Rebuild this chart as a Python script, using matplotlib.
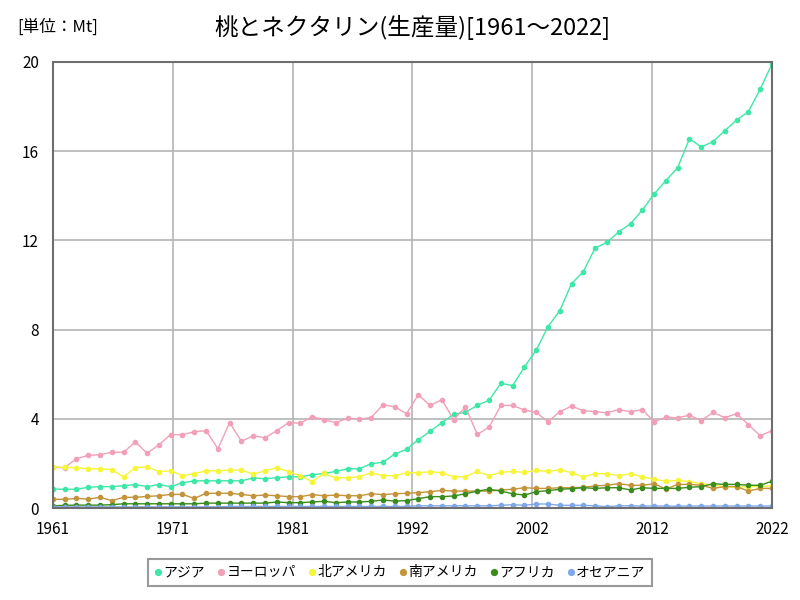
import numpy as np
import matplotlib.pyplot as plt

plt.rcParams['font.family'] = ['Noto Sans CJK JP', 'DejaVu Sans']
plt.rcParams['font.size'] = 11

# データ（単位：Mt）
years = list(range(1961, 2023))

asia = [0.85, 0.84, 0.84, 0.93, 0.96, 0.96, 1.00, 1.05, 0.96, 1.05,
        0.96, 1.13, 1.22, 1.22, 1.22, 1.22, 1.22, 1.35, 1.31, 1.36,
        1.40, 1.40, 1.49, 1.55, 1.64, 1.76, 1.76, 1.99, 2.05, 2.42,
        2.63, 3.06, 3.44, 3.83, 4.20, 4.29, 4.60, 4.83, 5.59, 5.49,
        6.32, 7.08, 8.13, 8.85, 10.06, 10.60, 11.66, 11.91, 12.38, 12.75,
        13.36, 14.08, 14.68, 15.26, 16.56, 16.19, 16.43, 16.92, 17.40, 17.77,
        18.79, 19.91]

europe = [1.82, 1.81, 2.21, 2.36, 2.39, 2.50, 2.50, 2.97, 2.45, 2.84,
          3.29, 3.29, 3.42, 3.47, 2.66, 3.83, 2.99, 3.24, 3.15, 3.47,
          3.83, 3.80, 4.10, 3.96, 3.83, 4.02, 4.00, 4.05, 4.63, 4.54,
          4.23, 5.08, 4.60, 4.86, 3.95, 4.54, 3.30, 3.62, 4.60, 4.60,
          4.39, 4.29, 3.87, 4.32, 4.57, 4.36, 4.32, 4.27, 4.41, 4.32,
          4.41, 3.87, 4.07, 4.05, 4.16, 3.92, 4.29, 4.05, 4.23, 3.74,
          3.24, 3.47]

north_america = [1.85, 1.82, 1.81, 1.76, 1.76, 1.72, 1.40, 1.81, 1.85, 1.63,
                 1.67, 1.45, 1.54, 1.67, 1.67, 1.70, 1.70, 1.52, 1.67, 1.81,
                 1.63, 1.45, 1.18, 1.55, 1.35, 1.36, 1.40, 1.58, 1.45, 1.45,
                 1.58, 1.58, 1.63, 1.58, 1.40, 1.40, 1.64, 1.45, 1.60, 1.64,
                 1.60, 1.69, 1.64, 1.72, 1.58, 1.40, 1.54, 1.54, 1.45, 1.54,
                 1.40, 1.29, 1.20, 1.24, 1.18, 1.09, 1.03, 0.96, 0.93, 0.96,
                 0.96, 1.00]

south_america = [0.39, 0.39, 0.43, 0.40, 0.48, 0.33, 0.48, 0.48, 0.52, 0.55,
                 0.61, 0.61, 0.43, 0.66, 0.66, 0.66, 0.61, 0.55, 0.58, 0.55,
                 0.51, 0.51, 0.60, 0.55, 0.58, 0.55, 0.55, 0.64, 0.60, 0.64,
                 0.66, 0.69, 0.73, 0.79, 0.76, 0.76, 0.76, 0.76, 0.81, 0.84,
                 0.91, 0.88, 0.88, 0.91, 0.91, 0.93, 0.99, 1.02, 1.09, 1.02,
                 1.02, 1.09, 0.85, 1.06, 1.06, 1.02, 0.88, 0.96, 0.96, 0.76,
                 0.88, 0.88]

africa = [0.10, 0.12, 0.13, 0.13, 0.13, 0.15, 0.19, 0.19, 0.19, 0.19,
          0.19, 0.19, 0.19, 0.22, 0.22, 0.22, 0.22, 0.22, 0.22, 0.27,
          0.24, 0.24, 0.27, 0.30, 0.24, 0.27, 0.27, 0.30, 0.36, 0.31,
          0.33, 0.42, 0.51, 0.51, 0.54, 0.64, 0.76, 0.84, 0.76, 0.64,
          0.58, 0.73, 0.78, 0.84, 0.87, 0.91, 0.88, 0.91, 0.91, 0.81,
          0.91, 0.88, 0.88, 0.88, 0.93, 0.96, 1.09, 1.06, 1.06, 1.02,
          1.02, 1.20]

oceania = [0.05, 0.05, 0.05, 0.05, 0.05, 0.05, 0.05, 0.05, 0.05, 0.05,
           0.05, 0.05, 0.05, 0.05, 0.05, 0.07, 0.07, 0.07, 0.07, 0.07,
           0.07, 0.07, 0.07, 0.07, 0.07, 0.07, 0.07, 0.07, 0.07, 0.07,
           0.07, 0.10, 0.10, 0.10, 0.10, 0.10, 0.10, 0.10, 0.12, 0.15,
           0.12, 0.18, 0.18, 0.12, 0.12, 0.12, 0.10, 0.06, 0.10, 0.10,
           0.09, 0.09, 0.09, 0.08, 0.09, 0.09, 0.09, 0.09, 0.09, 0.09,
           0.09, 0.09]

series = [
    ('アジア', asia, '#3DE8A6'),
    ('ヨーロッパ', europe, '#F2A0B8'),
    ('北アメリカ', north_america, '#F5F53A'),
    ('南アメリカ', south_america, '#C4943A'),
    ('アフリカ', africa, '#3A8C1C'),
    ('オセアニア', oceania, '#80A8E8'),
]

xtick_labels = ['1961', '1971', '1981', '1992', '2002', '2012', '2022']
yticks = [0, 4, 8, 12, 16, 20]

fig = plt.figure(figsize=(8, 6), dpi=100)
ax = fig.add_axes([0.066, 0.1533, 0.899, 0.7434])

for name, vals, color in series:
    ax.plot(years, vals, color=color, linewidth=1, marker='o',
            markersize=3, label=name)

ax.set_xlim(1961, 2022)
ax.set_ylim(0, 20)
ax.set_xticks(np.linspace(1961, 2022, 7))
ax.set_xticklabels(xtick_labels)
ax.set_yticks(yticks)
ax.set_yticklabels([str(v) for v in yticks])
ax.tick_params(axis='x', length=0, labelsize=11, pad=9)
ax.tick_params(axis='y', length=0, labelsize=11, pad=10)

ax.grid(color='#b4b4b4', linewidth=1.2)
ax.set_axisbelow(True)
for sp in ax.spines.values():
    sp.set_color('#6e6e6e')
    sp.set_linewidth(1.5)

fig.text(0.515, 0.955, '桃とネクタリン(生産量)[1961～2022]', ha='center', va='center',
         fontsize=17)
fig.text(0.022, 0.955, '[単位：Mt]', ha='left', va='center', fontsize=12)

leg = fig.legend(loc='center', bbox_to_anchor=(0.5, 0.046), ncol=6,
                 frameon=True, fancybox=False, edgecolor='#808080',
                 fontsize=10, handlelength=0.5, handletextpad=0.15,
                 columnspacing=0.9, borderpad=0.45, markerscale=1.4)
leg.get_frame().set_linewidth(1.5)
for h in leg.get_lines():
    h.set_linestyle('none')

fig.savefig('out.png', dpi=100, facecolor='white')
